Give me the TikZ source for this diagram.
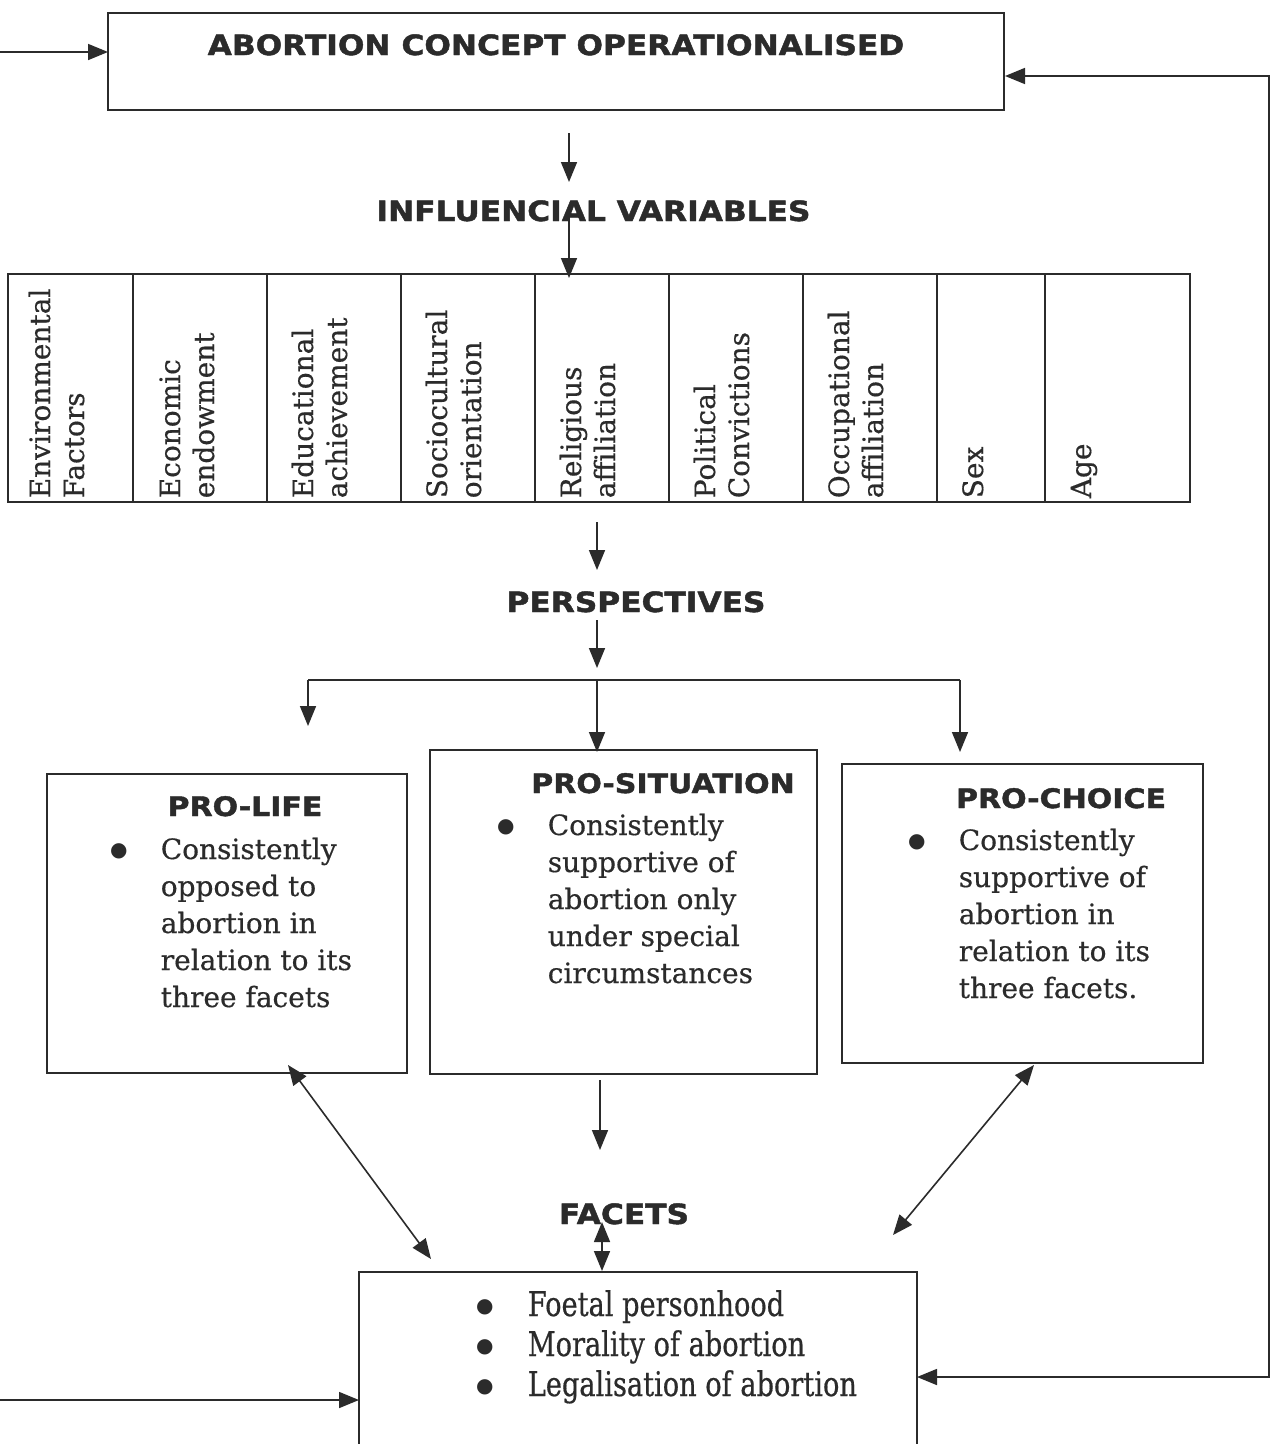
\documentclass[tikz,border=0pt]{standalone}
\usepackage{fontspec}
\setmainfont[FakeBold=0.5]{DejaVu Serif}
\newfontfamily\headfont[FakeStretch=1.12,FakeBold=1.6]{DejaVu Sans}
\newfontfamily\condserif[FakeStretch=0.8,FakeBold=0.5]{DejaVu Serif}
\newfontfamily\symfont{DejaVu Sans}
\newcommand\mybul[1]{\makebox[0pt]{\raisebox{#1}{\fontsize{20}{20}\symfont\selectfont ●}}}
\usetikzlibrary{arrows.meta}
\definecolor{ink}{HTML}{2B2B2B}
\begin{document}
\begin{tikzpicture}[x=1pt,y=-1pt,
  line width=1.6pt, draw=ink, text=ink,
  tipst/.style={-{Triangle[length=20pt,width=16pt]}},
  dblst/.style={{Triangle[length=20pt,width=16pt]}-{Triangle[length=20pt,width=16pt]}},
  boxst/.style={draw=ink, line width=1.6pt, inner sep=0pt, rectangle},
  headst/.style={font=\headfont\bfseries\fontsize{26.8}{30}\selectfont, inner sep=0pt, anchor=base},
  bigheadst/.style={font=\headfont\bfseries\fontsize{27.9}{30}\selectfont, inner sep=0pt, anchor=base},
  bodyst/.style={font=\fontsize{28}{37}\selectfont, inner sep=0pt, anchor=base west},
  cellst/.style={font=\fontsize{28}{34}\selectfont, inner sep=0pt, rotate=90, anchor=base west},
  facetst/.style={font=\condserif\fontsize{34}{40}\selectfont, inner sep=0pt, anchor=base west}]
\useasboundingbox (0,0) rectangle (1271,1444);
\fill[white] (0,0) rectangle (1271,1444);
\clip (0,0) rectangle (1271,1444);

% top box
\node[boxst, minimum width=896pt, minimum height=97pt] (topbox) at (556,61.5) {};
\node[bigheadst] (toptxt) at (556,55) {ABORTION CONCEPT OPERATIONALISED};

% influencial variables
\node[bigheadst] (infl) at (593.5,221) {INFLUENCIAL VARIABLES};

% table
\node[boxst, minimum width=1182pt, minimum height=228pt] (table) at (599,388) {};
\foreach \xx in {133,267,401,535,669,803,937,1045}{
  \draw[ink] (\xx,274) -- (\xx,502);
}
\node[cellst] (c1) at (50,499) {\begin{tabular}[t]{@{}l@{}}Environmental\\Factors\end{tabular}};
\node[cellst] (c2) at (180,499) {\begin{tabular}[t]{@{}l@{}}Economic\\endowment\end{tabular}};
\node[cellst] (c3) at (313,499) {\begin{tabular}[t]{@{}l@{}}Educational\\achievement\end{tabular}};
\node[cellst] (c4) at (447,499) {\begin{tabular}[t]{@{}l@{}}Sociocultural\\orientation\end{tabular}};
\node[cellst] (c5) at (581,499) {\begin{tabular}[t]{@{}l@{}}Religious\\affiliation\end{tabular}};
\node[cellst] (c6) at (715,499) {\begin{tabular}[t]{@{}l@{}}Political\\Convictions\end{tabular}};
\node[cellst] (c7) at (849,499) {\begin{tabular}[t]{@{}l@{}}Occupational\\affiliation\end{tabular}};
\node[cellst] (c8) at (983,499) {Sex};
\node[cellst] (c9) at (1091,499) {Age};

% perspectives
\node[bigheadst] (persp) at (636,612) {PERSPECTIVES};

% pro-life
\node[boxst, minimum width=360pt, minimum height=299pt] (plife) at (227,923.5) {};
\node[headst] (plifet) at (245,816) {PRO-LIFE};
\node[bodyst] (plifex) at (118,859) {\begin{tabular}[t]{@{}p{42pt}@{}l@{}}\mybul{3pt}&Consistently\\&opposed to\\&abortion in\\&relation to its\\&three facets\end{tabular}};

% pro-situation
\node[boxst, minimum width=387pt, minimum height=324pt] (psit) at (623.5,912) {};
\node[headst] (psitt) at (663,793) {PRO-SITUATION};
\node[bodyst] (psitx) at (505,835) {\begin{tabular}[t]{@{}p{42pt}@{}l@{}}\mybul{3pt}&Consistently\\&supportive of\\&abortion only\\&under special\\&circumstances\end{tabular}};

% pro-choice
\node[boxst, minimum width=361pt, minimum height=299pt] (pchoice) at (1022.5,913.5) {};
\node[headst] (pchoicet) at (1061,808) {PRO-CHOICE};
\node[bodyst] (pchoicex) at (916,850) {\begin{tabular}[t]{@{}p{42pt}@{}l@{}}\mybul{3pt}&Consistently\\&supportive of\\&abortion in\\&relation to its\\&three facets.\end{tabular}};

% facets
\node[bigheadst] (facets) at (624,1224) {FACETS};
\node[boxst, minimum width=558pt, minimum height=180pt] (fbox) at (638,1362) {};
\node[facetst] (flist) at (484,1316) {\begin{tabular}[t]{@{}p{43pt}@{}l@{}}\mybul{4pt}&Foetal personhood\\\mybul{4pt}&Morality of abortion\\\mybul{4pt}&Legalisation of abortion\end{tabular}};

% connector coordinates
\coordinate (a1s) at (569,133);  \coordinate (a1e) at (569,182);
\coordinate (a2s) at (569,215);  \coordinate (a2e) at (569,278);
\coordinate (a3s) at (597,522);  \coordinate (a3e) at (597,570);
\coordinate (a4s) at (597,620);  \coordinate (a4e) at (597,668);
\coordinate (barL) at (308,680); \coordinate (barM) at (597,680); \coordinate (barR) at (960,680);
\coordinate (bL) at (308,726);   \coordinate (bM) at (597,752);  \coordinate (bR) at (960,752);
\coordinate (a6s) at (600,1080); \coordinate (a6e) at (600,1150);
\coordinate (fu) at (602,1222);  \coordinate (fd) at (602,1271);
\coordinate (dl1) at (288,1065); \coordinate (dl2) at (431,1259);
\coordinate (dr1) at (1034,1065);\coordinate (dr2) at (893,1235);
\coordinate (inT) at (0,52);     \coordinate (inTe) at (108,52);
\coordinate (inB) at (0,1400);   \coordinate (inBe) at (359,1400);
\coordinate (rb) at (917,1377);  \coordinate (rc1) at (1269,1377);
\coordinate (rc2) at (1269,76);  \coordinate (rt) at (1005,76);

\draw[tipst] (a1s) -- (a1e);
\draw[tipst] (a2s) -- (a2e);
\draw[tipst] (a3s) -- (a3e);
\draw[tipst] (a4s) -- (a4e);
\draw (barL) -- (barR);
\draw[tipst] (barL) -- (bL);
\draw[tipst] (barM) -- (bM);
\draw[tipst] (barR) -- (bR);
\draw[tipst] (a6s) -- (a6e);
\draw[dblst] (fu) -- (fd);
\draw[dblst] (dl1) -- (dl2);
\draw[dblst] (dr1) -- (dr2);
\draw[tipst] (inT) -- (inTe);
\draw[tipst] (inB) -- (inBe);
\draw[dblst] (rb) -- (rc1) -- (rc2) -- (rt);
\end{tikzpicture}
\end{document}
